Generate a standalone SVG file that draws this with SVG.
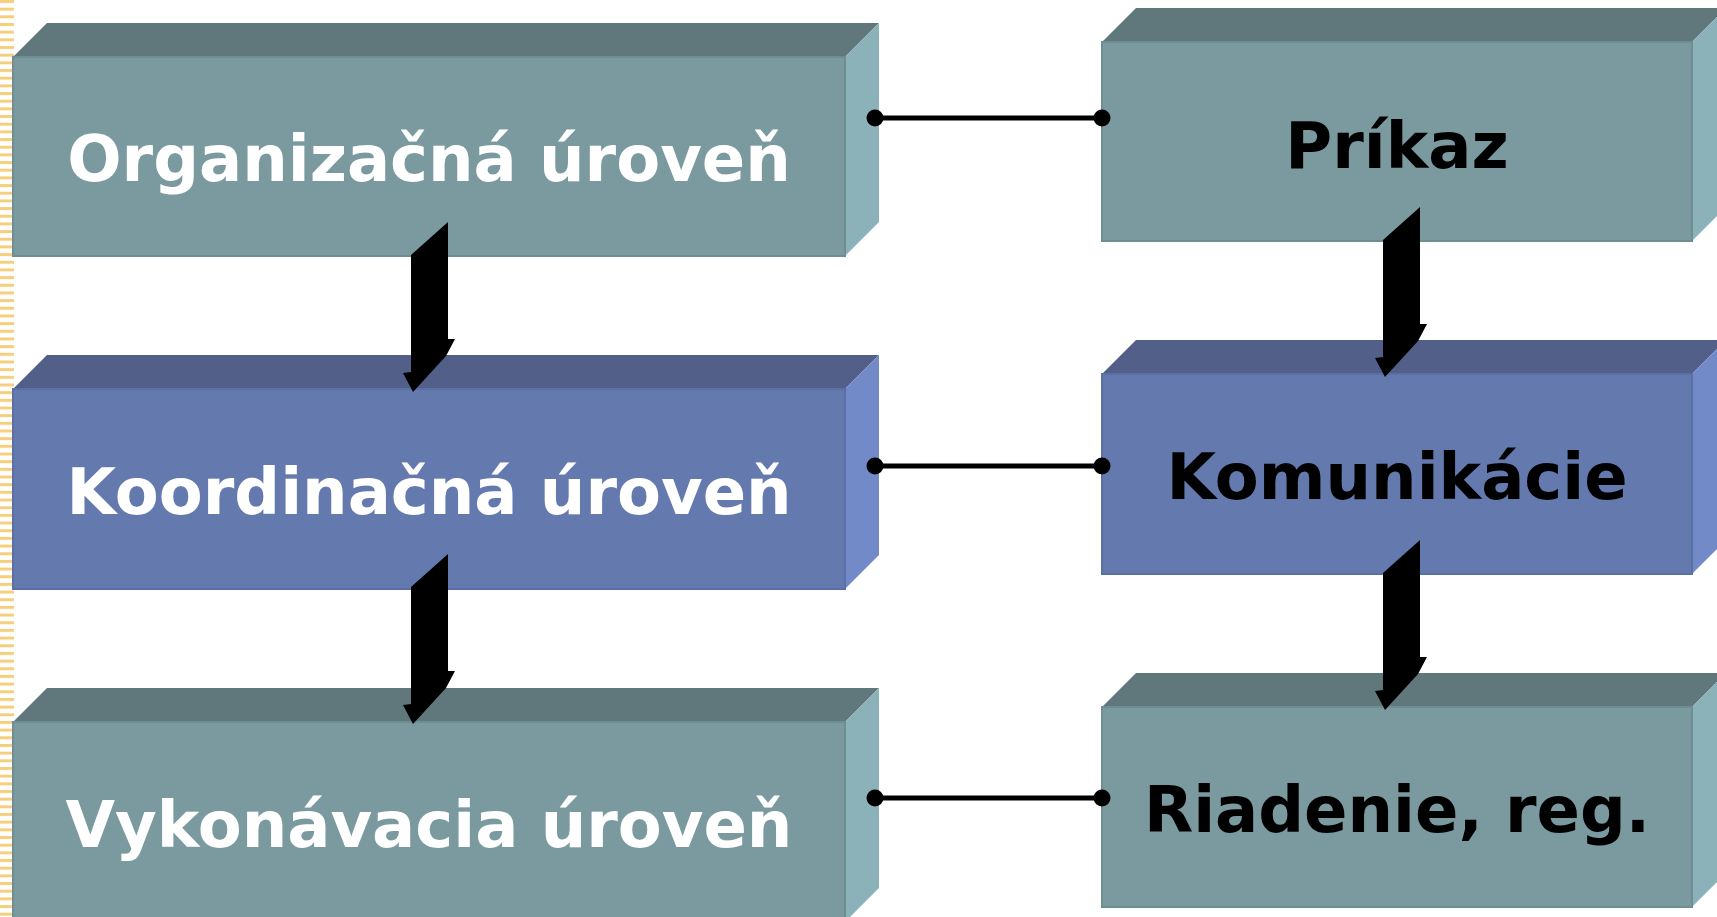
<svg xmlns="http://www.w3.org/2000/svg" width="1717" height="917" viewBox="0 0 1717 917">
  <defs>
    <style>
      .tf-top{fill:#60787C}
      .tf-front{fill:#7A9AA0;stroke:#6E8E94;stroke-width:2}
      .tf-side{fill:#8BB2B9}
      .bl-top{fill:#515F89}
      .bl-front{fill:#6479AD;stroke:#5A6FA3;stroke-width:2}
      .bl-side{fill:#738AC8}
      .lbl{font-family:"DejaVu Sans","Verdana",sans-serif;font-weight:bold;font-size:64px;text-anchor:middle}
      .w{fill:#FFFFFF}
      .k{fill:#000000}
      .conn{stroke:#000;stroke-width:5;fill:none}
      .dot{fill:#000}
      .arr{fill:#000}
    </style>
    <pattern id="stripes" x="0" y="0" width="14" height="7.67" patternUnits="userSpaceOnUse">
      <rect x="0" y="0" width="14" height="3" fill="#F5CF7E"/>
    </pattern>
    <polygon id="arrowShape" points="0,33 37,0 37,117 44,117 35,134 2,170 -8,151 0,150"/>
  </defs>

  <rect x="0" y="0" width="1717" height="917" fill="#FFFFFF"/>
  <rect x="0" y="0" width="14" height="917" fill="url(#stripes)"/>

  <g id="node-organizacna">
    <polygon class="tf-top" points="13,57 47,23 879,23 845,57"/>
    <polygon class="tf-side" points="845,57 879,23 879,222 845,256"/>
    <rect class="tf-front" x="13" y="57" width="832" height="199"/>
    <text class="lbl w" x="429" y="181">Organizačná úroveň</text>
  </g>

  <g id="node-koordinacna">
    <polygon class="bl-top" points="13,389 47,355 879,355 845,389"/>
    <polygon class="bl-side" points="845,389 879,355 879,555 845,589"/>
    <rect class="bl-front" x="13" y="389" width="832" height="200"/>
    <text class="lbl w" x="429" y="514">Koordinačná úroveň</text>
  </g>

  <g id="node-vykonavacia">
    <polygon class="tf-top" points="13,722 47,688 879,688 845,722"/>
    <polygon class="tf-side" points="845,722 879,688 879,888 845,922"/>
    <rect class="tf-front" x="13" y="722" width="832" height="200"/>
    <text class="lbl w" x="429" y="847">Vykonávacia úroveň</text>
  </g>

  <g id="node-prikaz">
    <polygon class="tf-top" points="1102,42 1136,8 1726,8 1692,42"/>
    <polygon class="tf-side" points="1692,42 1726,8 1726,207 1692,241"/>
    <rect class="tf-front" x="1102" y="42" width="590" height="199"/>
    <text class="lbl k" x="1397" y="168">Príkaz</text>
  </g>

  <g id="node-komunikacie">
    <polygon class="bl-top" points="1102,374 1136,340 1726,340 1692,374"/>
    <polygon class="bl-side" points="1692,374 1726,340 1726,540 1692,574"/>
    <rect class="bl-front" x="1102" y="374" width="590" height="200"/>
    <text class="lbl k" x="1397" y="499">Komunikácie</text>
  </g>

  <g id="node-riadenie">
    <polygon class="tf-top" points="1102,707 1136,673 1726,673 1692,707"/>
    <polygon class="tf-side" points="1692,707 1726,673 1726,873 1692,907"/>
    <rect class="tf-front" x="1102" y="707" width="590" height="200"/>
    <text class="lbl k" x="1397" y="832">Riadenie, reg.</text>
  </g>

  <g id="connectors">
    <use href="#arrowShape" class="arr" transform="translate(411,222)"/>
    <use href="#arrowShape" class="arr" transform="translate(411,554)"/>
    <use href="#arrowShape" class="arr" transform="translate(1383,207)"/>
    <use href="#arrowShape" class="arr" transform="translate(1383,540)"/>

    <line class="conn" x1="875" y1="118" x2="1102" y2="118"/>
    <circle class="dot" cx="875" cy="118" r="8.5"/>
    <circle class="dot" cx="1102" cy="118" r="8.5"/>

    <line class="conn" x1="875" y1="466" x2="1102" y2="466"/>
    <circle class="dot" cx="875" cy="466" r="8.5"/>
    <circle class="dot" cx="1102" cy="466" r="8.5"/>

    <line class="conn" x1="875" y1="798" x2="1102" y2="798"/>
    <circle class="dot" cx="875" cy="798" r="8.5"/>
    <circle class="dot" cx="1102" cy="798" r="8.5"/>
  </g>
</svg>
